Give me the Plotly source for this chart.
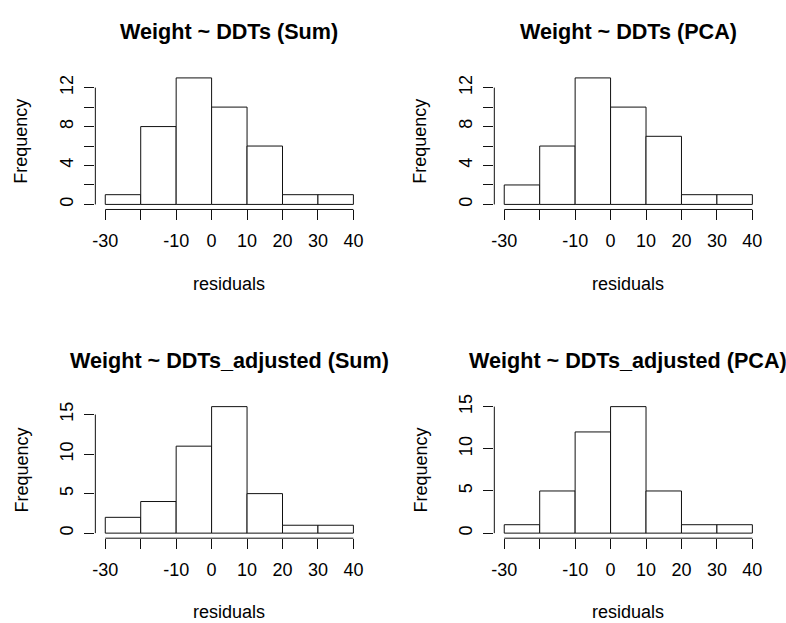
import plotly.graph_objects as go

# ---------------- data ----------------
breaks = [-30, -20, -10, 0, 10, 20, 30, 40]
titles = [
    "Weight ~ DDTs (Sum)",
    "Weight ~ DDTs (PCA)",
    "Weight ~ DDTs_adjusted (Sum)",
    "Weight ~ DDTs_adjusted (PCA)",
]
counts_sum = [1, 8, 13, 10, 6, 1, 1]
counts_pca = [2, 6, 13, 10, 7, 1, 1]
counts_adj_sum = [2, 4, 11, 16, 5, 1, 1]
counts_adj_pca = [1, 5, 12, 15, 5, 1, 1]

x_tick_vals = [-30, -20, -10, 0, 10, 20, 30, 40]
x_tick_text = ["-30", "", "-10", "0", "10", "20", "30", "40"]
y_tick_vals_top = [0, 2, 4, 6, 8, 10, 12]
y_tick_text_top = ["0", "", "4", "", "8", "", "12"]
y_tick_vals_bottom = [0, 5, 10, 15]
y_tick_text_bottom = ["0", "5", "10", "15"]
x_label = "residuals"
y_label = "Frequency"

# ---------------- layout geometry (pixels) ----------------
W, H = 786, 623
col_px = [(92.7, 361.7), (493.2, 762.2)]
row_px = [(65.7, 204.1), (398.7, 537.1)]
FONT = "Liberation Sans, Arial, Helvetica, sans-serif"
TXT = 18
TITLE = 21.6
LINE = "#111111"


def px_x(p):
    return p / W


def px_y(p):
    return 1 - p / H


panels = [
    (counts_sum, 0, 0, y_tick_vals_top, y_tick_text_top),
    (counts_pca, 0, 1, y_tick_vals_top, y_tick_text_top),
    (counts_adj_sum, 1, 0, y_tick_vals_bottom, y_tick_text_bottom),
    (counts_adj_pca, 1, 1, y_tick_vals_bottom, y_tick_text_bottom),
]

fig = go.Figure()
centers = [(a + b) / 2 for a, b in zip(breaks[:-1], breaks[1:])]
widths = [b - a for a, b in zip(breaks[:-1], breaks[1:])]
xspan = breaks[-1] - breaks[0]
xr = [breaks[0] - 0.04 * xspan, breaks[-1] + 0.04 * xspan]

annotations = []
shapes = []
for i, (counts, r, c, yt, ytt) in enumerate(panels):
    k = "" if i == 0 else str(i + 1)
    xa, ya = "x" + k, "y" + k
    ymax = max(counts)
    yr = [-0.04 * ymax, 1.04 * ymax]
    fig.add_trace(go.Bar(
        x=centers, y=counts, width=widths, base=0,
        marker=dict(color="white", line=dict(color=LINE, width=1)),
        xaxis=xa, yaxis=ya, showlegend=False, hoverinfo="x+y",
    ))
    x0, x1 = col_px[c]
    y0, y1 = row_px[r]
    axis_common = dict(
        showgrid=False, zeroline=False, showline=False,
        ticks="outside", ticklen=10, tickwidth=1, tickcolor=LINE,
        tickfont=dict(family=FONT, size=TXT, color="black"),
        fixedrange=True,
    )
    fig.layout["xaxis" + k] = dict(
        domain=[px_x(x0), px_x(x1)], range=xr, anchor=ya,
        tickmode="array", tickvals=x_tick_vals, ticktext=x_tick_text,
        tickangle=0, ticklabelstandoff=5, **axis_common,
    )
    fig.layout["yaxis" + k] = dict(
        domain=[px_y(y1), px_y(y0)], range=yr, anchor=xa,
        tickmode="array", tickvals=yt, ticktext=ytt,
        tickangle=-90, ticklabelstandoff=4, **axis_common,
    )
    # R-style axis lines spanning first to last tick
    shapes.append(dict(type="line", xref=xa, yref=ya + " domain",
                       x0=x_tick_vals[0], x1=x_tick_vals[-1], y0=0, y1=0,
                       line=dict(color=LINE, width=1)))
    shapes.append(dict(type="line", xref=xa + " domain", yref=ya,
                       x0=0, x1=0, y0=yt[0], y1=yt[-1],
                       line=dict(color=LINE, width=1)))
    cx = (x0 + x1) / 2
    cy = (y0 + y1) / 2
    annotations.append(dict(text="<b>%s</b>" % titles[i], xref="paper", yref="paper",
                            x=px_x(cx), y=px_y(y0 - 42), xanchor="center", yanchor="middle",
                            showarrow=False, font=dict(family=FONT, size=TITLE, color="black")))
    annotations.append(dict(text=x_label, xref="paper", yref="paper",
                            x=px_x(cx), y=px_y(y1 + 75), xanchor="center", yanchor="middle",
                            showarrow=False, font=dict(family=FONT, size=TXT, color="black")))
    annotations.append(dict(text=y_label, xref="paper", yref="paper",
                            x=px_x(x0 - 74), y=px_y(cy), xanchor="center", yanchor="middle",
                            textangle=-90, showarrow=False,
                            font=dict(family=FONT, size=TXT, color="black")))

fig.update_layout(
    width=W, height=H, margin=dict(l=0, r=0, t=0, b=0),
    paper_bgcolor="white", plot_bgcolor="white",
    annotations=annotations, shapes=shapes,
    font=dict(family=FONT, size=TXT, color="black"),
)

fig.write_html("out.html", config={"displayModeBar": False})
